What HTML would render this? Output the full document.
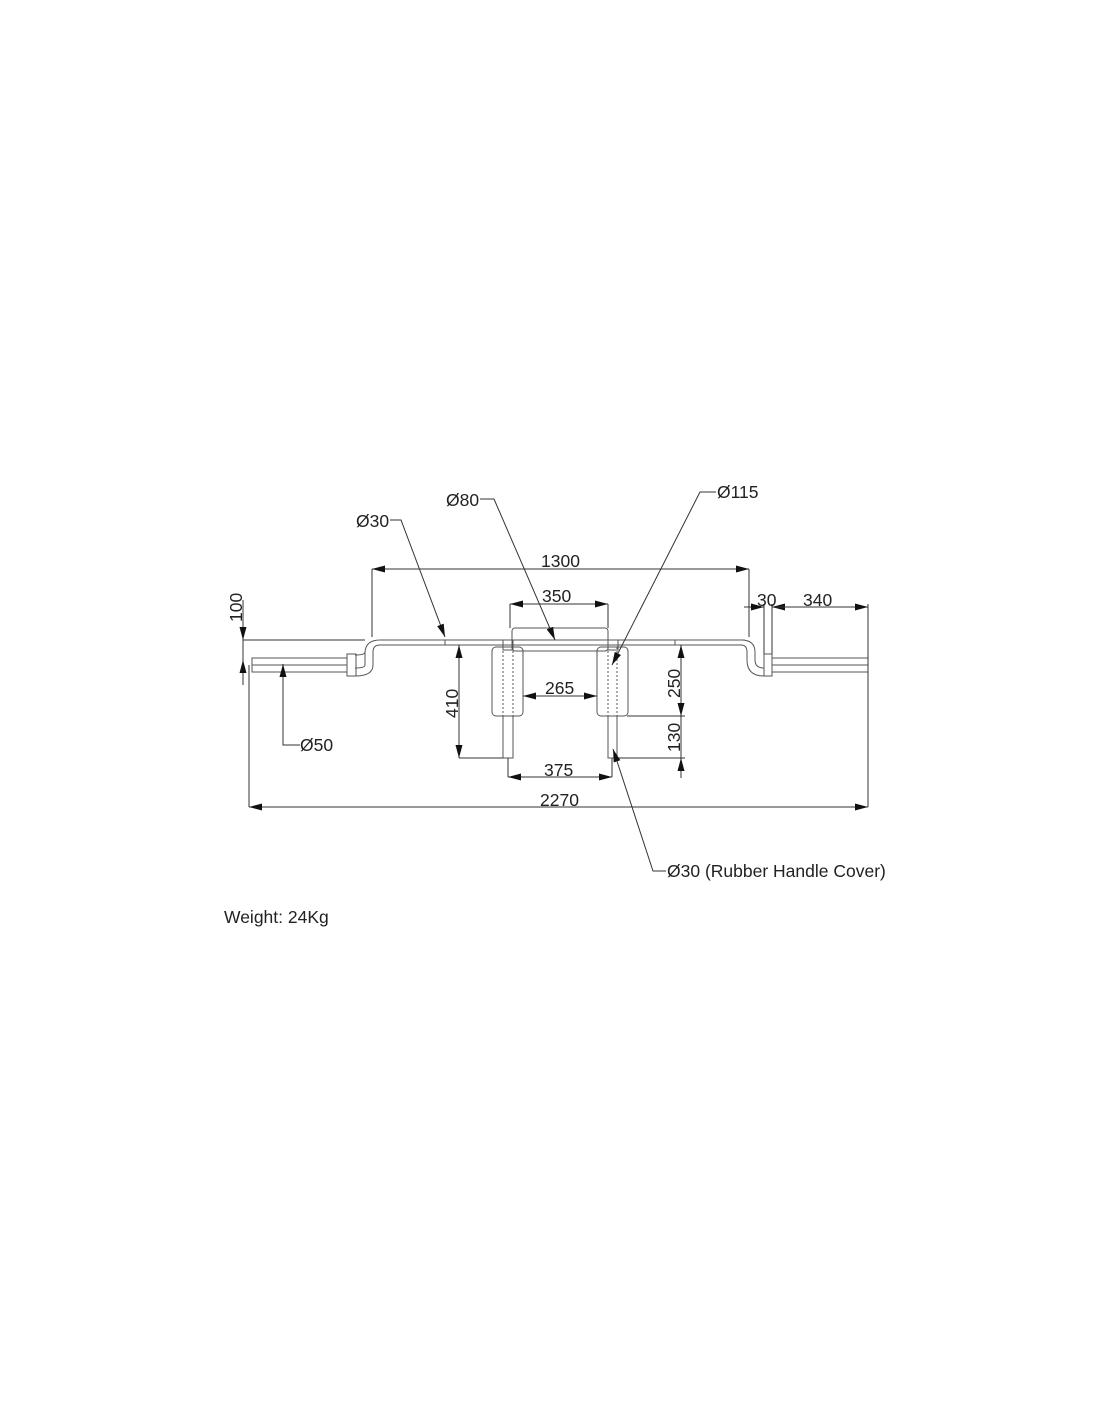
<!DOCTYPE html>
<html><head><meta charset="utf-8"><style>
html,body{margin:0;padding:0;background:#fff}
svg{display:block}
text{font-family:"Liberation Sans",sans-serif;font-size:17.5px;fill:#222}
</style></head><body>
<svg width="1100" height="1422" viewBox="0 0 1100 1422" xmlns="http://www.w3.org/2000/svg">
<defs>
<marker id="a" viewBox="0 0 13 7" refX="13" refY="3.5" markerWidth="13" markerHeight="7" orient="auto-start-reverse" markerUnits="userSpaceOnUse"><path d="M0,0L13,3.5L0,7z" fill="#111"/></marker>
</defs>
<g stroke="#555" stroke-width="1" fill="none">
<path d="M380,640H745M380,645H741"/>
<line x1="445" y1="640" x2="445" y2="645"/>
<line x1="675" y1="640" x2="675" y2="645"/>
<path d="M380,640 Q366,640 365,652 V665 Q365,668 355,668"/>
<path d="M380,645 Q373,645 373,652 V665 Q373,676 355,676"/>
<path d="M355,655 Q365,655 365,652"/>
<rect x="347" y="654" width="9" height="22"/>
<rect x="252" y="658" width="95" height="14"/>
<line x1="252" y1="665" x2="347" y2="665"/>
<path d="M741,640 Q755,640 755,652 V660 Q755,668 764,668"/>
<path d="M741,645 Q747,645 747,652 V660 Q747,676 764,676"/>
<rect x="764" y="654" width="8" height="22"/>
<rect x="772" y="658" width="96" height="14"/>
<line x1="772" y1="665" x2="868" y2="665"/>
<rect x="512" y="628" width="96" height="23" rx="3"/>
<line x1="512" y1="640" x2="608" y2="640" stroke-dasharray="2,2"/>
<rect x="503" y="640" width="10" height="10"/>
<rect x="608" y="640" width="10" height="10"/>
<rect x="492" y="647" width="31" height="69" rx="4"/>
<rect x="597" y="647" width="31" height="69" rx="4"/>
<path d="M503,647V716M513,647V716M608,647V716M617,647V716" stroke-dasharray="2,2"/>
<rect x="503" y="716" width="10" height="42"/>
<rect x="608" y="716" width="9" height="42"/>
</g>
<g stroke="#333" stroke-width="1" fill="none">
<path d="M243,640H365M372,569V637M749,569V637M510,604V628M608,604V628M764,604V654M772,604V654M868,604V807M249,665V807M627,716H685M459,758H503M617,758H685M508,758V777M612,758V777"/>
<line x1="372" y1="569" x2="749" y2="569" marker-start="url(#a)" marker-end="url(#a)"/>
<line x1="510" y1="604" x2="608" y2="604" marker-start="url(#a)" marker-end="url(#a)"/>
<line x1="523" y1="696" x2="597" y2="696" marker-start="url(#a)" marker-end="url(#a)"/>
<line x1="508" y1="777" x2="612" y2="777" marker-start="url(#a)" marker-end="url(#a)"/>
<line x1="249" y1="807" x2="868" y2="807" marker-start="url(#a)" marker-end="url(#a)"/>
<line x1="459" y1="645" x2="459" y2="758" marker-start="url(#a)" marker-end="url(#a)"/>
<line x1="681" y1="645" x2="681" y2="716" marker-start="url(#a)" marker-end="url(#a)"/>
<line x1="681" y1="778" x2="681" y2="758" marker-end="url(#a)"/>
<line x1="681" y1="716" x2="681" y2="758"/>
<line x1="243" y1="600" x2="243" y2="640" marker-end="url(#a)"/>
<line x1="243" y1="685" x2="243" y2="660" marker-end="url(#a)"/>
<line x1="243" y1="640" x2="243" y2="660"/>
<line x1="744" y1="607" x2="764" y2="607" marker-end="url(#a)"/>
<line x1="792" y1="607" x2="772" y2="607" marker-end="url(#a)"/>
<line x1="776" y1="607" x2="868" y2="607" marker-end="url(#a)"/>
<path d="M390,520H401L445,637" marker-end="url(#a)"/>
<path d="M480,499H494L555,640" marker-end="url(#a)"/>
<path d="M716,492H700L612,665" marker-end="url(#a)"/>
<path d="M666,871H653L613,749" marker-end="url(#a)"/>
<path d="M300,745H283V664" marker-end="url(#a)"/>
</g>
<text x="356" y="527">Ø30</text>
<text x="446" y="506">Ø80</text>
<text x="717" y="498">Ø115</text>
<text x="541" y="567">1300</text>
<text x="542" y="602">350</text>
<text x="545" y="694">265</text>
<text x="544" y="776">375</text>
<text x="540" y="806">2270</text>
<text x="757" y="606">30</text>
<text x="803" y="606">340</text>
<text x="300" y="751">Ø50</text>
<text x="667" y="877">Ø30 (Rubber Handle Cover)</text>
<text x="224" y="923">Weight: 24Kg</text>
<text transform="translate(242,622) rotate(-90)">100</text>
<text transform="translate(458,718) rotate(-90)">410</text>
<text transform="translate(680,698) rotate(-90)">250</text>
<text transform="translate(680,752) rotate(-90)">130</text>
</svg>
</body></html>
